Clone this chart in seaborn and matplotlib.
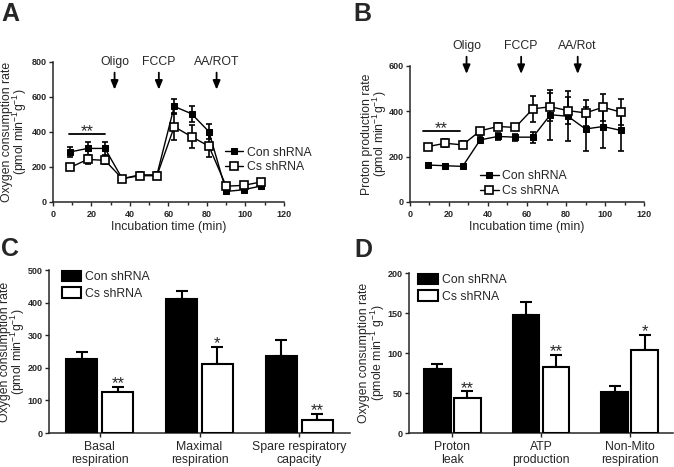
import numpy as np
import pandas as pd
import seaborn as sns
import matplotlib.pyplot as plt
from matplotlib.ticker import MultipleLocator


# time course (min)
time = [9, 18, 27, 36, 45, 54, 63, 72, 81, 90, 99, 108]

# A: oxygen consumption rate
ocr_con = [286, 306, 306, 133, 155, 155, 546, 504, 402, 60, 70, 91]
ocr_con_err = [29, 38, 38, 12, 18, 18, 42, 46, 42, 10, 10, 10]
ocr_cs = [198, 243, 238, 133, 150, 150, 430, 373, 319, 90, 95, 114]
ocr_cs_err = [12, 27, 20, 12, 15, 15, 77, 67, 61, 10, 10, 12]

# B: proton production rate
ppr_con = [163, 160, 157, 274, 289, 286, 286, 385, 378, 322, 333, 316]
ppr_con_err = [10, 8, 8, 15, 15, 15, 24, 111, 111, 95, 93, 89]
ppr_cs = [244, 259, 252, 314, 333, 329, 411, 420, 403, 393, 418, 397]
ppr_cs_err = [12, 18, 15, 14, 15, 12, 56, 62, 61, 56, 59, 58]

# injections
inj_a = ['Oligo', 'FCCP', 'AA/ROT']
inj_a_time = [32, 55, 85]
inj_b = ['Oligo', 'FCCP', 'AA/Rot']
inj_b_time = [29, 57, 86]

# C: respiration parameters
resp_labels = ['Basal\nrespiration', 'Maximal\nrespiration', 'Spare respiratory\ncapacity']
resp_con = [227, 412, 236]
resp_con_err = [20, 23, 49]
resp_cs = [127, 211, 40]
resp_cs_err = [15, 53, 19]
resp_sig = ['**', '*', '**']

# D: OCR components
comp_labels = ['Proton\nleak', 'ATP\nproduction', 'Non-Mito\nrespiration']
comp_con = [80, 147, 51]
comp_con_err = [6, 17, 8]
comp_cs = [44, 83, 104]
comp_cs_err = [8, 15, 19]
comp_sig = ['**', '**', '*']

groups = ['Con shRNA', 'Cs shRNA']


sns.set_style('ticks')
plt.rcParams['font.family'] = ['Liberation Sans', 'DejaVu Sans']
plt.rcParams['mathtext.fontset'] = 'custom'
plt.rcParams['mathtext.rm'] = 'Liberation Sans'
plt.rcParams['mathtext.default'] = 'regular'
plt.rcParams['axes.linewidth'] = 1.1
plt.rcParams['xtick.major.width'] = 1.0
plt.rcParams['ytick.major.width'] = 1.0
plt.rcParams['xtick.minor.width'] = 1.0
plt.rcParams['xtick.major.size'] = 3
plt.rcParams['ytick.major.size'] = 3
plt.rcParams['xtick.minor.size'] = 2
plt.rcParams['ytick.major.pad'] = 1.5
plt.rcParams['xtick.major.pad'] = 2.5

FS = 8.8
TICK_FS = 6.5
STAR_FS = 12

fig = plt.figure(figsize=(6.74, 4.67), dpi=100)
ax_a = fig.add_axes([0.0786, 0.5675, 0.3427, 0.2998])
ax_b = fig.add_axes([0.6083, 0.5675, 0.3472, 0.2912])
ax_c = fig.add_axes([0.0727, 0.0728, 0.4466, 0.3490])
ax_d = fig.add_axes([0.6068, 0.0728, 0.3917, 0.3426])


def style_ticks(ax, bold_x=True):
    for lab in ax.get_yticklabels():
        lab.set_fontweight('bold')
        lab.set_fontsize(TICK_FS)
    for lab in ax.get_xticklabels():
        if bold_x:
            lab.set_fontweight('bold')
            lab.set_fontsize(TICK_FS)
        else:
            lab.set_fontsize(FS)
    sns.despine(ax=ax)


def set_ylabel(ax, text, xpos):
    # xpos = right edge of the two-line label, in axes coords
    ax.set_ylabel(text, fontsize=FS, linespacing=0.85)
    ax.yaxis.set_label_coords(xpos, 0.5)


def time_course(ax, con, con_err, cs, cs_err, ymax, ystep, ylabel, label_x,
                injections, inj_time, inj_text_y, inj_head_y, star_x, star_y, leg_anchor):
    ax.errorbar(time, con, yerr=con_err, fmt='none', ecolor='black', elinewidth=1.2,
                capsize=2.5, capthick=1.2, zorder=2)
    ax.errorbar(time, cs, yerr=cs_err, fmt='none', ecolor='black', elinewidth=1.2,
                capsize=2.5, capthick=1.2, zorder=2)
    sns.lineplot(x=time, y=con, ax=ax, color='black', lw=1.0, marker='s', markersize=4.3,
                 markeredgecolor='black', markerfacecolor='black', label=groups[0], zorder=3)
    sns.lineplot(x=time, y=cs, ax=ax, color='black', lw=1.0, marker='s', markersize=5.5,
                 markeredgecolor='black', markerfacecolor='white', markeredgewidth=1.2,
                 label=groups[1], zorder=4)
    ax.set_xlim(0, 120)
    ax.set_ylim(0, ymax)
    ax.xaxis.set_major_locator(MultipleLocator(20))
    ax.xaxis.set_minor_locator(MultipleLocator(10))
    ax.yaxis.set_major_locator(MultipleLocator(ystep))
    ax.set_xlabel('Incubation time (min)', fontsize=FS, labelpad=2)
    set_ylabel(ax, ylabel, label_x)
    ax.legend(loc='center left', bbox_to_anchor=leg_anchor, frameon=False, fontsize=FS,
              handlelength=1.5, handletextpad=0.3, labelspacing=0.2, borderpad=0, borderaxespad=0)

    for name, t in zip(injections, inj_time):
        ax.annotate(name, xy=(t, inj_head_y), xytext=(t, inj_text_y), ha='center', va='center',
                    fontsize=FS, annotation_clip=False,
                    arrowprops=dict(arrowstyle='-|>,head_length=0.6,head_width=0.25',
                                    color='black', lw=1.3, shrinkA=1, shrinkB=0))

    ax.plot(star_x, [star_y, star_y], color='black', lw=1.3, clip_on=False)
    ax.annotate('**', xy=(np.mean(star_x), star_y), xytext=(0, -1), textcoords='offset points',
                ha='center', va='baseline', fontsize=STAR_FS)
    style_ticks(ax)


time_course(ax_a, ocr_con, ocr_con_err, ocr_cs, ocr_cs_err, 800, 200,
            'Oxygen consumption rate\n(pmol min$^{-1}$g$^{-1}$)', -0.105,
            inj_a, inj_a_time, 800, 642, [8.3, 27], 387, (0.745, 0.30))

time_course(ax_b, ppr_con, ppr_con_err, ppr_cs, ppr_cs_err, 600, 200,
            'Proton production rate\n(pmol min$^{-1}$g$^{-1}$)', -0.088,
            inj_b, inj_b_time, 688, 565, [6.8, 25.6], 311, (0.30, 0.135))


def bar_panel(ax, labels, con, con_err, cs, cs_err, sig, ymax, ystep, ylabel, label_x,
              width, gap, xlim, leg_anchor):
    df = pd.DataFrame({
        'cat': labels * 2,
        'group': [groups[0]] * len(labels) + [groups[1]] * len(labels),
        'val': con + cs,
    })
    sns.barplot(data=df, x='cat', y='val', hue='group', hue_order=groups,
                palette={groups[0]: 'black', groups[1]: 'white'}, edgecolor='black',
                linewidth=1.5, width=width, gap=gap, errorbar=None, ax=ax, zorder=3)

    for cont, err, stars in zip(ax.containers, [con_err, cs_err], [None, sig]):
        xs = [b.get_x() + b.get_width() / 2 for b in cont]
        hs = [b.get_height() for b in cont]
        ax.errorbar(xs, hs, yerr=[np.zeros(len(err)), err], fmt='none', ecolor='black',
                    elinewidth=1.5, capsize=4.5, capthick=1.5, zorder=2)
        if stars is not None:
            for x, h, e, s in zip(xs, hs, err, stars):
                ax.annotate(s, xy=(x, h + e), xytext=(0, -1), textcoords='offset points',
                            ha='center', va='baseline', fontsize=STAR_FS)

    ax.set_xlim(*xlim)
    ax.set_ylim(0, ymax)
    ax.yaxis.set_major_locator(MultipleLocator(ystep))
    ax.set_xlabel('')
    set_ylabel(ax, ylabel, label_x)
    ax.legend(loc='center left', bbox_to_anchor=leg_anchor, frameon=False, fontsize=FS,
              handlelength=1.6, handleheight=1.0, handletextpad=0.35, labelspacing=0.3,
              borderpad=0, borderaxespad=0)
    style_ticks(ax, bold_x=False)


bar_panel(ax_c, resp_labels, resp_con, resp_con_err, resp_cs, resp_cs_err, resp_sig,
          500, 100, 'Oxygen consumption rate\n(pmol min$^{-1}$g$^{-1}$)', -0.072,
          0.72, 0.14, (-0.51, 2.51), (0.042, 0.908))

bar_panel(ax_d, comp_labels, comp_con, comp_con_err, comp_cs, comp_cs_err, comp_sig,
          200, 50, 'Oxygen consumption rate\n(pmole min$^{-1}$ g$^{-1}$)', -0.085,
          0.68, 0.12, (-0.49, 2.49), (0.034, 0.906))

# panel letters
for letter, x, y in [('A', 0.002, 0.996), ('B', 0.525, 0.996), ('C', 0.002, 0.493), ('D', 0.526, 0.491)]:
    fig.text(x, y, letter, fontsize=18, fontweight='bold', ha='left', va='top')

fig.savefig('out.png', dpi=100)
